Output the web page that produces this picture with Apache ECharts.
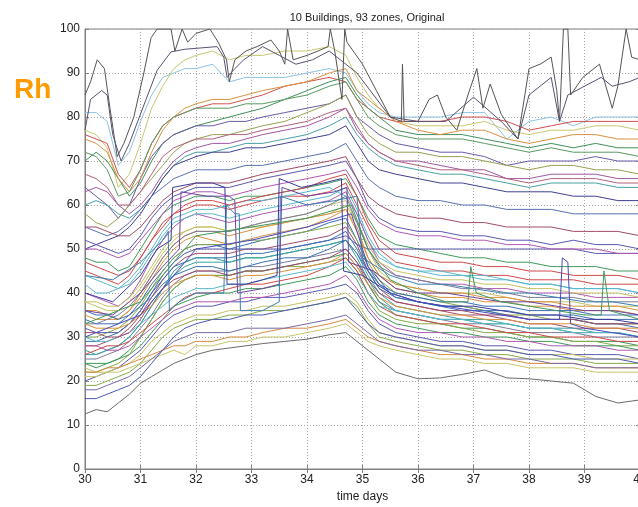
<!DOCTYPE html>
<html><head><meta charset="utf-8">
<script src="https://cdn.jsdelivr.net/npm/echarts@6/dist/echarts.min.js"></script>
<style>html,body{margin:0;padding:0;background:#fff}#c{width:638px;height:507px}</style>
</head><body><div id="c"></div>
<script>
// shared time grid (days)
const days = [30,30.2,30.4,30.6,30.8,31,31.2,31.4,31.6,31.8,32,32.3,32.6,32.9,33.2,33.6,34,34.4,34.7,34.9,35.1,35.3,35.6,36,36.4,36.8,37.2,37.6,38,38.4,38.8,39.2,39.6,40];

// upper zones
const u1 = [81,81,79,69,72,79,85,89,90,91,91,92,88,89,89,89,90,91,90,86,83,81,80,80,80,81,81,75,79,80,78,80,80,80];
const u2 = [77,76,73,64,67,74,82,87,91,93,94,95,93,94,94,95,95,96,94,89,85,82,79,78,78,78,79,77,76,77,77,78,78,77];
const u3 = [76,75,74,67,64,68,74,78,80,81,82,83,83,84,85,87,88,89,88,84,82,80,79,79,79,80,80,79,77,78,79,79,79,79];
const u4 = [70,72,70,66,62,65,70,74,76,77,78,79,80,81,82,84,86,88,89,85,82,80,77,76,76,76,75,74,73,74,73,74,73,73];
const u5 = [64,62,60,57,60,66,71,74,76,77,78,78,79,79,80,81,82,83,85,80,78,76,74,73,72,72,71,69,70,70,70,71,70,70];
const u6 = [75,74,72,66,63,66,72,77,80,82,83,84,84,85,86,87,88,90,91,86,84,82,79,77,76,77,77,75,74,75,76,76,75,75];
const u7 = [63,64,63,60,58,60,63,67,70,72,73,74,74,75,76,77,78,80,82,77,74,72,70,70,69,68,68,66,66,67,67,67,66,66];
const u8 = [60,61,60,58,57,59,62,66,69,71,72,72,73,74,74,75,76,78,80,76,73,71,69,68,67,67,66,65,64,65,65,65,64,64];
const u9 = [50,51,52,53,55,58,62,66,69,70,71,72,72,73,73,74,75,76,78,74,70,68,67,66,65,65,64,63,63,63,62,62,61,61];
const u10 = [58,56,55,57,60,63,66,69,72,74,75,76,76,77,78,79,81,83,85,80,76,74,72,72,71,71,70,69,68,69,69,68,68,67];
const u11 = [72,71,68,62,63,68,74,78,80,81,82,82,82,83,83,84,85,87,88,84,80,78,76,75,75,75,74,73,72,73,72,72,72,71];
const u12 = [67,66,64,60,60,63,67,71,73,74,75,75,76,76,77,78,79,81,82,78,74,72,70,69,68,68,67,66,65,66,66,66,65,65];
const u13 = [55,54,53,54,56,59,62,64,66,67,68,68,68,69,69,70,71,72,74,70,66,64,62,61,61,60,60,59,59,59,58,58,58,58];

// middle zones
const m1 = [52,51,50,49,50,53,57,60,62,63,64,64,64,65,66,67,68,69,70,66,60,57,55,54,54,53,53,52,52,51,52,51,51,50];
const m2 = [48,47,47,45,46,50,54,58,60,61,62,62,61,62,62,63,64,65,66,62,57,53,51,50,49,48,48,47,47,46,46,46,45,45];
const m3 = [45,44,43,42,44,48,52,55,58,59,60,60,59,60,61,62,62,63,65,60,55,50,47,46,45,45,44,44,43,43,43,42,42,42];
const m4 = [42,40,40,41,43,46,50,54,57,58,59,59,60,61,61,62,63,64,62,58,52,48,46,45,45,44,44,43,42,42,41,41,41,40];
const m5 = [40,39,38,37,39,43,48,52,55,57,58,57,56,57,58,59,60,61,63,58,52,47,44,43,42,42,41,41,40,40,40,39,39,39];
const m6 = [38,37,36,36,38,41,45,49,52,54,55,55,54,55,56,57,58,60,61,56,50,45,42,41,40,40,40,39,38,38,38,37,37,37];
const m7 = [36,36,35,34,36,39,43,47,50,52,53,52,51,52,53,54,55,57,59,55,48,44,41,40,39,39,38,38,37,37,36,36,36,35];
const m8 = [34,33,33,33,35,38,42,45,48,50,51,51,50,51,52,53,54,56,57,52,46,42,39,38,37,37,36,36,35,35,35,34,34,34];
const m9 = [30,30,31,32,34,37,41,45,48,50,51,51,51,52,52,53,54,55,56,52,47,43,40,39,38,37,36,35,35,34,34,33,33,33];
const m10 = [28,28,29,30,32,35,39,43,46,48,49,49,49,50,50,51,52,53,55,51,45,41,38,37,36,35,35,34,33,33,32,32,32,31];
const m11 = [27,26,27,28,30,33,37,41,44,46,47,47,47,48,48,49,50,51,52,49,44,40,37,36,35,34,34,33,32,32,32,31,31,30];
const m12 = [25,25,26,27,29,32,35,39,42,44,45,45,45,46,46,47,48,49,50,47,42,38,36,35,34,33,33,32,31,31,31,30,30,30];
const m13 = [32,31,31,31,33,36,40,44,47,49,50,50,50,50,50,50,51,52,53,51,50,50,50,50,50,50,50,50,50,50,50,49,49,49];
const m14 = [24,24,24,25,27,30,34,38,41,43,44,44,44,45,45,46,47,48,49,46,42,38,35,34,33,32,32,31,30,30,29,29,29,28];
const m15 = [47,46,45,44,45,48,52,56,58,60,61,61,60,61,62,63,64,66,67,62,56,52,49,48,47,47,46,46,45,45,44,44,44,43];
const m16 = [44,43,42,41,42,45,49,53,56,57,58,58,57,58,59,60,61,62,64,59,53,49,46,45,44,44,43,43,42,42,41,41,41,40];
const m17 = [50,50,49,48,49,52,55,58,61,62,63,63,62,63,64,65,66,67,68,64,59,56,54,53,53,52,52,51,51,50,50,50,49,49];
const m18 = [38,38,37,37,39,42,46,50,53,54,55,55,54,55,55,56,57,58,60,56,51,47,45,44,43,43,42,42,41,41,40,40,40,39];
const m19 = [35,34,34,34,36,40,44,48,51,53,54,54,53,54,55,56,57,58,59,54,48,44,42,41,40,40,39,39,38,38,37,37,37,36];
const m20 = [29,29,30,31,33,36,40,43,46,47,48,48,48,49,49,50,51,52,54,50,45,41,39,38,37,36,36,35,34,34,34,33,33,32];
const m21 = [22,22,23,24,26,30,34,38,41,43,44,44,44,45,45,46,46,47,48,45,40,36,34,33,33,32,31,31,30,30,29,29,28,28];
const m22 = [55,55,54,53,53,55,58,61,63,64,65,65,65,66,67,68,69,70,71,66,62,60,58,57,57,56,56,55,55,55,54,54,54,53];
const m23 = [26,26,27,28,30,33,37,41,45,47,48,48,47,48,48,49,50,51,52,48,43,39,36,35,34,34,33,33,32,32,31,31,31,30];
const m24 = [33,33,34,35,37,40,44,48,51,53,54,54,54,55,56,57,58,60,62,56,50,46,44,43,42,41,41,40,39,39,39,38,38,38];

// middle-low zones
const n1 = [20,21,22,23,25,27,30,33,35,36,37,37,38,38,39,39,40,41,42,40,36,33,31,30,29,29,28,28,27,27,26,26,26,25];
const n2 = [24,23,24,25,26,28,31,34,37,38,39,40,40,41,41,42,43,44,46,43,38,35,33,32,31,31,30,30,29,29,28,28,28,27];
const n3 = [26,27,28,28,29,31,33,35,37,39,40,40,41,42,42,43,44,46,48,45,40,37,35,34,33,33,32,31,31,30,30,30,29,29];
const n4 = [30,29,29,30,31,33,35,37,39,40,41,41,42,42,43,44,45,46,47,44,40,37,36,35,34,34,33,33,32,32,31,31,31,30];
const n5 = [28,28,27,27,28,30,32,34,36,37,38,38,38,39,39,40,41,42,44,41,37,34,32,31,31,30,30,29,29,28,28,28,27,27];
const n6 = [23,22,22,23,24,26,29,31,33,34,35,35,36,36,37,37,38,39,40,38,34,31,30,29,28,28,27,27,26,26,26,25,25,25];
const n7 = [33,32,32,32,33,35,37,40,42,43,44,44,43,44,44,45,46,47,49,46,42,39,37,36,35,35,34,34,33,33,33,32,32,32];
const n8 = [36,35,35,34,35,37,39,42,44,45,46,46,45,46,47,48,48,50,52,49,45,42,40,39,38,38,37,37,36,36,36,35,35,35];
const n9 = [19,19,20,21,22,24,27,30,32,33,34,34,35,35,36,36,37,38,39,37,33,30,29,28,27,27,26,26,25,25,25,24,24,24];
const n10 = [31,31,30,30,31,34,38,41,43,44,45,45,44,45,45,46,47,48,50,47,43,40,38,37,36,36,35,35,34,34,34,33,33,33];

// lower zones
const l1 = [22,22,23,23,24,25,26,27,28,28,29,29,30,30,31,32,32,33,34,32,30,29,28,27,26,26,25,25,24,24,24,23,23,23];
const l2 = [21,21,22,22,23,24,25,26,27,26,28,28,29,29,30,30,31,32,33,31,29,28,27,26,25,25,24,24,23,23,23,22,22,22];
const l3 = [18,18,19,20,21,23,25,27,29,30,31,31,31,32,32,32,33,34,35,33,31,29,28,27,27,26,26,25,25,24,24,23,23,23];
const l4 = [16,16,17,18,19,21,24,27,30,32,33,34,34,35,35,36,37,38,39,36,33,31,30,29,28,28,27,27,26,26,25,25,25,24];
const l5 = [12.5,13.5,13,15,17,19.5,21,22.5,24,25,26,27,27.5,28,28.5,29,29.5,30.5,31,29,27,25,22,20.5,20.7,21.5,22.5,20.7,20.5,20,19.5,16.5,15,15.7];

// zones with their own time stamps
const grayADays = [30,30.1,30.22,30.35,30.45,30.58,30.7,30.88,31.06,31.19,31.3,31.55,31.62,31.75,31.85,32,32.25,32.4,32.55,32.6,32.7,32.9,33.1,33.35,33.5,33.6,33.65,33.75,34,34.2,34.38,34.42,34.5,34.63,34.68,34.72,35,35.25,35.5,35.7,35.72,35.75,36,36.2,36.35,36.5,36.7,36.9,37.06,37.17,37.3,37.5,37.8,38,38.2,38.4,38.5,38.55,38.62,38.7,38.75,38.97,39.27,39.5,39.6,39.75,39.85,40];
const grayA = [85,88,93,91,82,71,74,80,90,98,100,100,95,100,97,99,100,97,93,88,93,95,96,97.5,95,92,100,93,94,95,96,100,95,84,100,97,92,86,80,79,92,79,79,84,85,80,77,85,91,82,87.5,80.6,75,91,92,93.6,86,79,100,100,85,89,92,82,87,100,93.6,93];
const grayBDays = [30,30.1,30.3,30.4,30.5,30.65,30.8,31.1,31.3,31.55,31.8,32.38,32.5,32.56,32.7,32.86,33.2,33.5,33.8,34.1,34.4,34.6,34.9,35.2,35.5,36,36.5,37,37.5,37.8,38,38.4,38.55,38.7,39,39.3,39.5,39.8,40];
const grayB = [77,84,86,85,76,70,74,84,90.6,94.8,95.4,96,93.6,89,91,93,96,94,92,93,95,93,90,85,80,79,79,84.5,79,75,85,89,79,85,87,89,87,88,89];
const s1Days = [30,30.5,31,31.3,31.55,31.58,32,32.3,32.52,32.56,32.9,33.2,33.46,33.5,33.9,34.3,34.62,34.66,35,35.5,36,36.5,37,37.5,38,38.5,39,39.5,40];
const s1 = [40,38,44,50,52,64,65,65,64,42,42,43,44,66,64,65,66,45,44,40,38,37,37,36,35,35,34,34,33];
const s2Days = [30,30.5,31,31.4,31.7,31.73,32.2,32.6,32.7,32.75,33.2,33.5,33.55,34,34.5,34.72,34.75,35.2,35.6,36,36.5,37,37.5,38,38.5,39,39.5,40];
const s2 = [36,35,40,46,50,63,62,62,61,40,41,42,64,62,63,64,47,45,41,40,40,39,38,38,37,36,36,35];
const s3Days = [30,30.5,31,31.4,31.5,31.52,31.7,32,32.5,32.55,32.7,32.78,32.8,33.2,33.5,33.52,34,34.5,34.9,35,35.5,36,36.5,37,37.5,38,38.5,39,39.5,40];
const s3 = [44,43,47,52,54,36,38,40,40,60,58,58,36,36,38,62,60,61,62,48,44,42,42,41,40,40,39,38,38,37];
const s4Days = [30,31,32,33,34,34.8,35.1,35.5,36,36.5,37,37.5,38,38.55,38.6,38.7,38.75,39,39.5,40];
const s4 = [30,35,50,52,55,58,46,40,38,37,36,35,34,34,48,47,33,32,31,30];
const s5Days = [30,31,32,33,34,34.8,35.1,35.5,36,36.5,36.9,36.95,37.05,37.5,38,38.5,39,39.3,39.35,39.45,40];
const s5 = [33,38,53,55,57,60,50,43,40,38,38,46,40,38,37,36,35,35,45,36,34];

const palette = ['#5a58b0','#3f9a5a','#d04848','#5ab8cc','#b058b0','#c4c062','#d9903c','#3a70b4','#86aa48','#a04a6a','#3aa0a0','#7a7a9a'];

const upper = [[u1,'#8cc4e0'],[u2,'#c8c870'],[u3,'#d05050'],[u4,'#40905a'],[u5,'#6a5aa8'],[u6,'#d89040'],[u7,'#a058a0'],[u8,'#4aa0a0'],[u9,'#404090'],[u10,'#9aa050'],[u11,'#5a9a60'],[u12,'#b06080'],[u13,'#5a70b0']];
const middle = [m1,m2,m3,m4,m5,m6,m7,m8,m9,m10,m11,m12,m13,m14,m15,m16,m17,m18,m19,m20,m21,m22,m23,m24,n1,n2,n3,n4,n5,n6,n7,n8,n9,n10];
const lower = [[l1,'#d88a40'],[l2,'#c8c46a'],[l3,'#7a6aa8'],[l4,'#4a5ab0'],[l5,'#6a6a6a']];
const own = [[grayADays,grayA,'#555555'],[grayBDays,grayB,'#5a5070'],[s1Days,s1,'#3a3a9a'],[s2Days,s2,'#7040a0'],[s3Days,s3,'#3a80b0'],[s4Days,s4,'#4a4ac0'],[s5Days,s5,'#3f9a5a']];

function mk(data,color){
  return {type:'line',data:data,showSymbol:false,symbol:'none',silent:true,
    lineStyle:{width:1,color:color},xAxisIndex:0,yAxisIndex:0,animation:false};
}
const series = [];
upper.forEach(([a,c])=>series.push(mk(days.map((d,i)=>[d,a[i]]),c)));
middle.forEach((a,k)=>series.push(mk(days.map((d,i)=>[d,a[i]]),palette[k%palette.length])));
lower.forEach(([a,c])=>series.push(mk(days.map((d,i)=>[d,a[i]]),c)));
own.forEach(([xs,ys,c])=>series.push(mk(xs.map((d,i)=>[d,ys[i]]),c)));

const chart = echarts.init(document.getElementById('c'),null,{renderer:'canvas'});
const gridLine = {show:true,lineStyle:{color:'#a8a8a8',type:[1,2],width:1}};
const lbl = {color:'#222',fontSize:12,fontFamily:'Liberation Sans, Arial, sans-serif'};
chart.setOption({
  animation:false,
  backgroundColor:'#fff',
  title:{text:'10 Buildings, 93 zones, Original',left:362,top:7,textAlign:'center',
    textStyle:{fontSize:11,fontWeight:'normal',color:'#222',fontFamily:'Liberation Sans, Arial, sans-serif'}},
  graphic:[{type:'text',left:14,top:76,style:{text:'Rh',fill:'#ff9a00',font:'bold 28px "Liberation Sans", Arial, sans-serif'}}],
  grid:{left:85,right:-2,top:29,bottom:38,outerBoundsMode:'none',containLabel:false,show:true,borderColor:'#808080',borderWidth:1,backgroundColor:'transparent'},
  xAxis:[{type:'value',min:30,max:40,interval:1,name:'time days',nameLocation:'middle',nameGap:22,
    nameTextStyle:{color:'#222',fontSize:12,fontFamily:'Liberation Sans, Arial, sans-serif'},
    axisLine:{show:true,lineStyle:{color:'#808080'}},axisTick:{show:true,inside:true,length:4,lineStyle:{color:'#808080'}},
    axisLabel:Object.assign({margin:5,showMaxLabel:true},lbl),splitLine:gridLine},
    {type:'value',min:30,max:40,interval:1,position:'top',axisLine:{show:true,lineStyle:{color:'#808080'}},
    axisTick:{show:true,inside:true,length:4,lineStyle:{color:'#808080'}},axisLabel:{show:false},splitLine:{show:false}}],
  yAxis:[{type:'value',min:0,max:100,interval:10,
    axisLine:{show:true,lineStyle:{color:'#808080'}},axisTick:{show:true,inside:true,length:4,lineStyle:{color:'#808080'}},
    axisLabel:Object.assign({margin:5},lbl),splitLine:gridLine},
    {type:'value',min:0,max:100,interval:10,position:'right',axisLine:{show:true,lineStyle:{color:'#808080'}},
    axisTick:{show:true,inside:true,length:4,lineStyle:{color:'#808080'}},axisLabel:{show:false},splitLine:{show:false}}],
  series:series
});
</script></body></html>
